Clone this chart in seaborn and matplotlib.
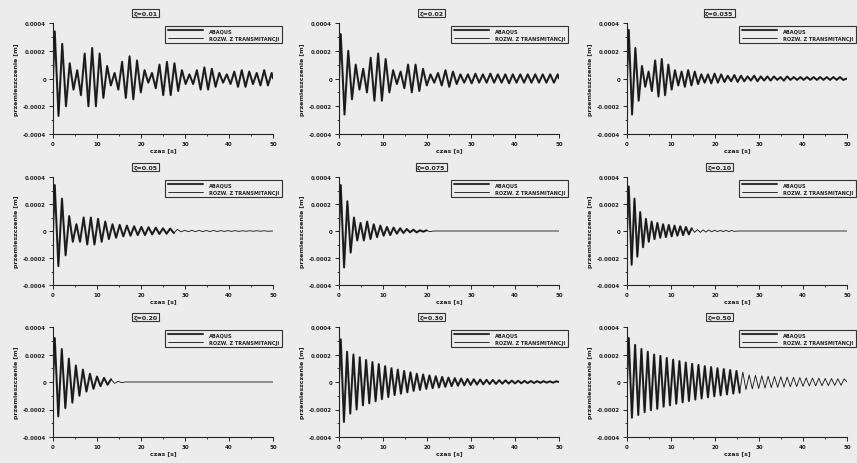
import matplotlib
matplotlib.use("Agg")
import matplotlib.pyplot as plt
from matplotlib.ticker import MultipleLocator
import pandas as pd
import seaborn as sns

# panel titles and shared text
titles = ["ζ=0.01", "ζ=0.02", "ζ=0.035", "ζ=0.05", "ζ=0.075", "ζ=0.10",
          "ζ=0.20", "ζ=0.30", "ζ=0.50"]
series_names = ["ABAQUS", "ROZW. Z TRANSMITANCJI"]
x_label = "czas [s]"
y_label = "przemieszczenie [m]"
x_ticks = [0, 10, 20, 30, 40, 50]
y_ticks = [-0.0004, -0.0002, 0, 0.0002, 0.0004]
y_tick_labels = ["-0.0004", "-0.0002", "0", "0.0002", "0.0004"]

# successive peaks / troughs, in 1e-4 m
peaks_001 = [3.4, -2.7, 2.5, -2.0, 1.1, -0.8, 0.6, -1.2, 1.8, -2.0, 2.2, -2.0, 1.8, -1.4, 0.9,
             -0.5, 0.4, -0.8, 1.2, -1.4, 1.6, -1.5, 1.3, -1.0, 0.6, -0.3, 0.4, -0.7, 1.0, -1.2,
             1.2, -1.2, 1.1, -0.9, 0.6, -0.4, 0.3, -0.4, 0.6, -0.8, 0.8, -0.8, 0.7, -0.6, 0.4,
             -0.3, 0.3, -0.4, 0.5, -0.6, 0.6, -0.6, 0.5, -0.4, 0.4, -0.5, 0.6, -0.5, 0.4]
peaks_002 = [3.2, -2.6, 2.0, -1.5, 1.0, -0.8, 0.7, -1.0, 1.5, -1.6, 1.8, -1.6, 1.4, -1.0, 0.6,
             -0.4, 0.5, -0.7, 1.0, -1.0, 1.0, -0.9, 0.7, -0.5, 0.3, -0.3, 0.4, -0.5, 0.6, -0.6,
             0.5, -0.4, 0.3, -0.3, 0.3, -0.35, 0.35, -0.3, 0.3, -0.3, 0.35, -0.3, 0.3, -0.3, 0.3,
             -0.35, 0.3, -0.3, 0.3, -0.3, 0.3, -0.3, 0.3, -0.3, 0.3, -0.3, 0.3, -0.3, 0.3]
peaks_0035 = [3.5, -2.6, 2.2, -1.6, 0.9, -0.6, 0.5, -0.9, 1.3, -1.3, 1.4, -1.2, 1.0, -0.8, 0.6,
              -0.5, 0.5, -0.6, 0.6, -0.5, 0.5, -0.4, 0.3, -0.3, 0.3, -0.35, 0.35, -0.3, 0.3, -0.25,
              0.2, -0.2, 0.25, -0.25, 0.2, -0.2, 0.15, -0.15, 0.2, -0.2, 0.15, -0.15, 0.15, -0.15,
              0.15, -0.1, 0.1, -0.15, 0.15, -0.1, 0.1, -0.1, 0.1, -0.1, 0.1, -0.1, 0.1, -0.1, 0.1,
              -0.1, 0.1, -0.1, 0.1, -0.1, 0.1, -0.1]
peaks_005 = [3.4, -2.6, 2.4, -1.8, 1.1, -0.8, 0.5, -0.8, 1.0, -1.0, 1.0, -1.0, 0.9, -0.8, 0.7,
             -0.6, 0.5, -0.5, 0.45, -0.4, 0.4, -0.35, 0.35, -0.3, 0.3, -0.3, 0.28, -0.25, 0.25,
             -0.22, 0.2, -0.2, 0.18, -0.15, 0.12, -0.06, 0.05, -0.05, 0.05, -0.05, 0.05, -0.05,
             0.04, -0.04, 0.04, -0.04, 0.03, -0.03, 0.03, -0.03, 0.03, -0.03, 0.02, -0.02, 0.02,
             -0.02, 0.02, -0.02, 0.02, -0.02]
peaks_0075 = [3.4, -2.7, 2.2, -1.6, 1.0, -0.7, 0.6, -0.7, 0.7, -0.6, 0.5, -0.45, 0.4, -0.35,
              0.3, -0.3, 0.25, -0.2, 0.2, -0.15, 0.15, -0.1, 0.1, -0.1, 0.05, -0.05, 0.05, -0.05, 0.0]
peaks_010 = [3.3, -2.5, 2.4, -1.9, 1.4, -1.2, 0.9, -0.8, 0.7, -0.6, 0.6, -0.5, 0.5, -0.45, 0.45,
             -0.4, 0.4, -0.35, 0.35, -0.3, 0.3, -0.25, 0.2, -0.1, 0.1, -0.1, 0.08, -0.08, 0.08,
             -0.06, 0.06, -0.05, 0.05, -0.05, 0.05, -0.04, 0.04, -0.03, 0.0]
peaks_020 = [3.2, -2.5, 2.4, -1.9, 1.7, -1.5, 1.2, -1.0, 0.9, -0.7, 0.6, -0.5, 0.4, -0.3, 0.3,
             -0.2, 0.2, -0.1, 0.05, -0.05, 0.0]
peaks_030 = [3.1, -2.9, 2.2, -2.3, 2.0, -2.0, 1.8, -1.7, 1.6, -1.55, 1.45, -1.4, 1.3, -1.25, 1.15,
             -1.1, 1.0, -0.95, 0.9, -0.85, 0.8, -0.75, 0.7, -0.65, 0.6, -0.58, 0.55, -0.5, 0.48,
             -0.45, 0.42, -0.4, 0.37, -0.35, 0.32, -0.3, 0.28, -0.27, 0.25, -0.24, 0.22, -0.21,
             0.2, -0.19, 0.18, -0.17, 0.16, -0.15, 0.15, -0.14, 0.13, -0.12, 0.12, -0.11, 0.1,
             -0.1, 0.09, -0.09, 0.08, -0.08, 0.07, -0.07, 0.06, -0.06, 0.06, -0.05, 0.05, -0.05, 0.05]
peaks_050 = [3.2, -2.6, 2.7, -2.4, 2.4, -2.2, 2.2, -2.05, 2.0, -1.95, 1.9, -1.8, 1.75, -1.7, 1.62,
             -1.58, 1.52, -1.48, 1.42, -1.38, 1.32, -1.28, 1.24, -1.2, 1.15, -1.12, 1.08, -1.04,
             1.0, -0.97, 0.94, -0.9, 0.87, -0.84, 0.81, -0.78, 0.72, -0.55, 0.52, -0.5, 0.48, -0.47,
             0.45, -0.44, 0.42, -0.41, 0.4, -0.39, 0.38, -0.37, 0.36, -0.35, 0.34, -0.33, 0.32,
             -0.31, 0.3, -0.3, 0.29, -0.28, 0.28, -0.27, 0.26, -0.26, 0.25, -0.25, 0.24, -0.24, 0.23]

all_peaks = [peaks_001, peaks_002, peaks_0035, peaks_005, peaks_0075, peaks_010,
             peaks_020, peaks_030, peaks_050]
# time between a peak and the next trough, per panel [s]
half_periods = [0.85, 0.85, 0.75, 0.82, 0.75, 0.65, 0.8, 0.72, 0.72]
first_peak_time = 0.4
# time where the ABAQUS run ends, per panel [s]
abaqus_end = [50, 50, 50, 28, 20, 15, 13.6, 50, 26]
t_end = 50

bg = "#ececec"
ink = "#222222"

sns.set_style("ticks")
plt.rcParams["font.family"] = ["DejaVu Sans"]
plt.rcParams["axes.facecolor"] = bg
plt.rcParams["figure.facecolor"] = bg

fig = plt.figure(figsize=(8.57, 4.64), dpi=100)
W, H = 857, 464
col_left = [53, 339, 627]
row_top = [24, 178, 328]
row_h = [111, 108, 110]
ax_w = 220

for k, (title, peaks) in enumerate(zip(titles, all_peaks)):
    r, c = divmod(k, 3)
    ax = fig.add_axes([col_left[c] / W, 1 - (row_top[r] + row_h[r]) / H, ax_w / W, row_h[r] / H])
    h = half_periods[k]
    t = [0.0] + [first_peak_time + i * h for i in range(len(peaks))]
    y = [0.0] + [p * 1e-4 for p in peaks]
    if t[-1] < t_end:
        t.append(t_end)
        y.append(0.0)
    df = pd.DataFrame({"t": t, "y": y})
    ab = df[df["t"] <= abaqus_end[k] + 1e-9]

    sns.lineplot(data=ab, x="t", y="y", ax=ax, color="#333333", lw=1.5,
                 label=series_names[0], estimator=None, sort=False)
    sns.lineplot(data=df, x="t", y="y", ax=ax, color="#111111", lw=0.6,
                 label=series_names[1], estimator=None, sort=False)

    ax.set_xlim(0, 50)
    ax.set_ylim(-0.0004, 0.0004)
    ax.set_xticks(x_ticks)
    ax.set_xticklabels([str(v) for v in x_ticks])
    ax.set_yticks(y_ticks)
    ax.set_yticklabels(y_tick_labels)
    ax.xaxis.set_minor_locator(MultipleLocator(5))
    ax.yaxis.set_minor_locator(MultipleLocator(0.0001))
    ax.tick_params(axis="both", which="major", labelsize=4, length=3, width=0.7,
                   colors=ink, pad=2)
    ax.tick_params(axis="both", which="minor", length=1.5, width=0.6, colors=ink)
    for lab in ax.get_xticklabels() + ax.get_yticklabels():
        lab.set_fontweight("bold")
    sns.despine(ax=ax)
    for s in ["left", "bottom"]:
        ax.spines[s].set_color(ink)
        ax.spines[s].set_linewidth(0.8)

    ax.set_xlabel(x_label, fontsize=4.5, fontweight="bold", color=ink, labelpad=1)
    ax.set_ylabel(y_label, fontsize=4.5, fontweight="bold", color=ink, labelpad=3)

    ax.text(0.42, 1.09, title, transform=ax.transAxes, ha="center", va="center",
            fontsize=4.5, fontweight="bold", color=ink,
            bbox=dict(boxstyle="square,pad=0.25", fc=bg, ec="#333333", lw=0.8))

    leg = ax.legend(loc="upper right", bbox_to_anchor=(1.05, 1.0), fontsize=3.6,
                    frameon=True, fancybox=False, handlelength=7, labelspacing=0.5,
                    borderpad=0.5, handletextpad=1.2)
    leg.get_frame().set_edgecolor("#333333")
    leg.get_frame().set_linewidth(0.8)
    leg.get_frame().set_facecolor(bg)
    leg.get_frame().set_alpha(1)
    for txt in leg.get_texts():
        txt.set_fontweight("bold")
        txt.set_color(ink)

fig.savefig("out.png", dpi=100, facecolor=bg)
